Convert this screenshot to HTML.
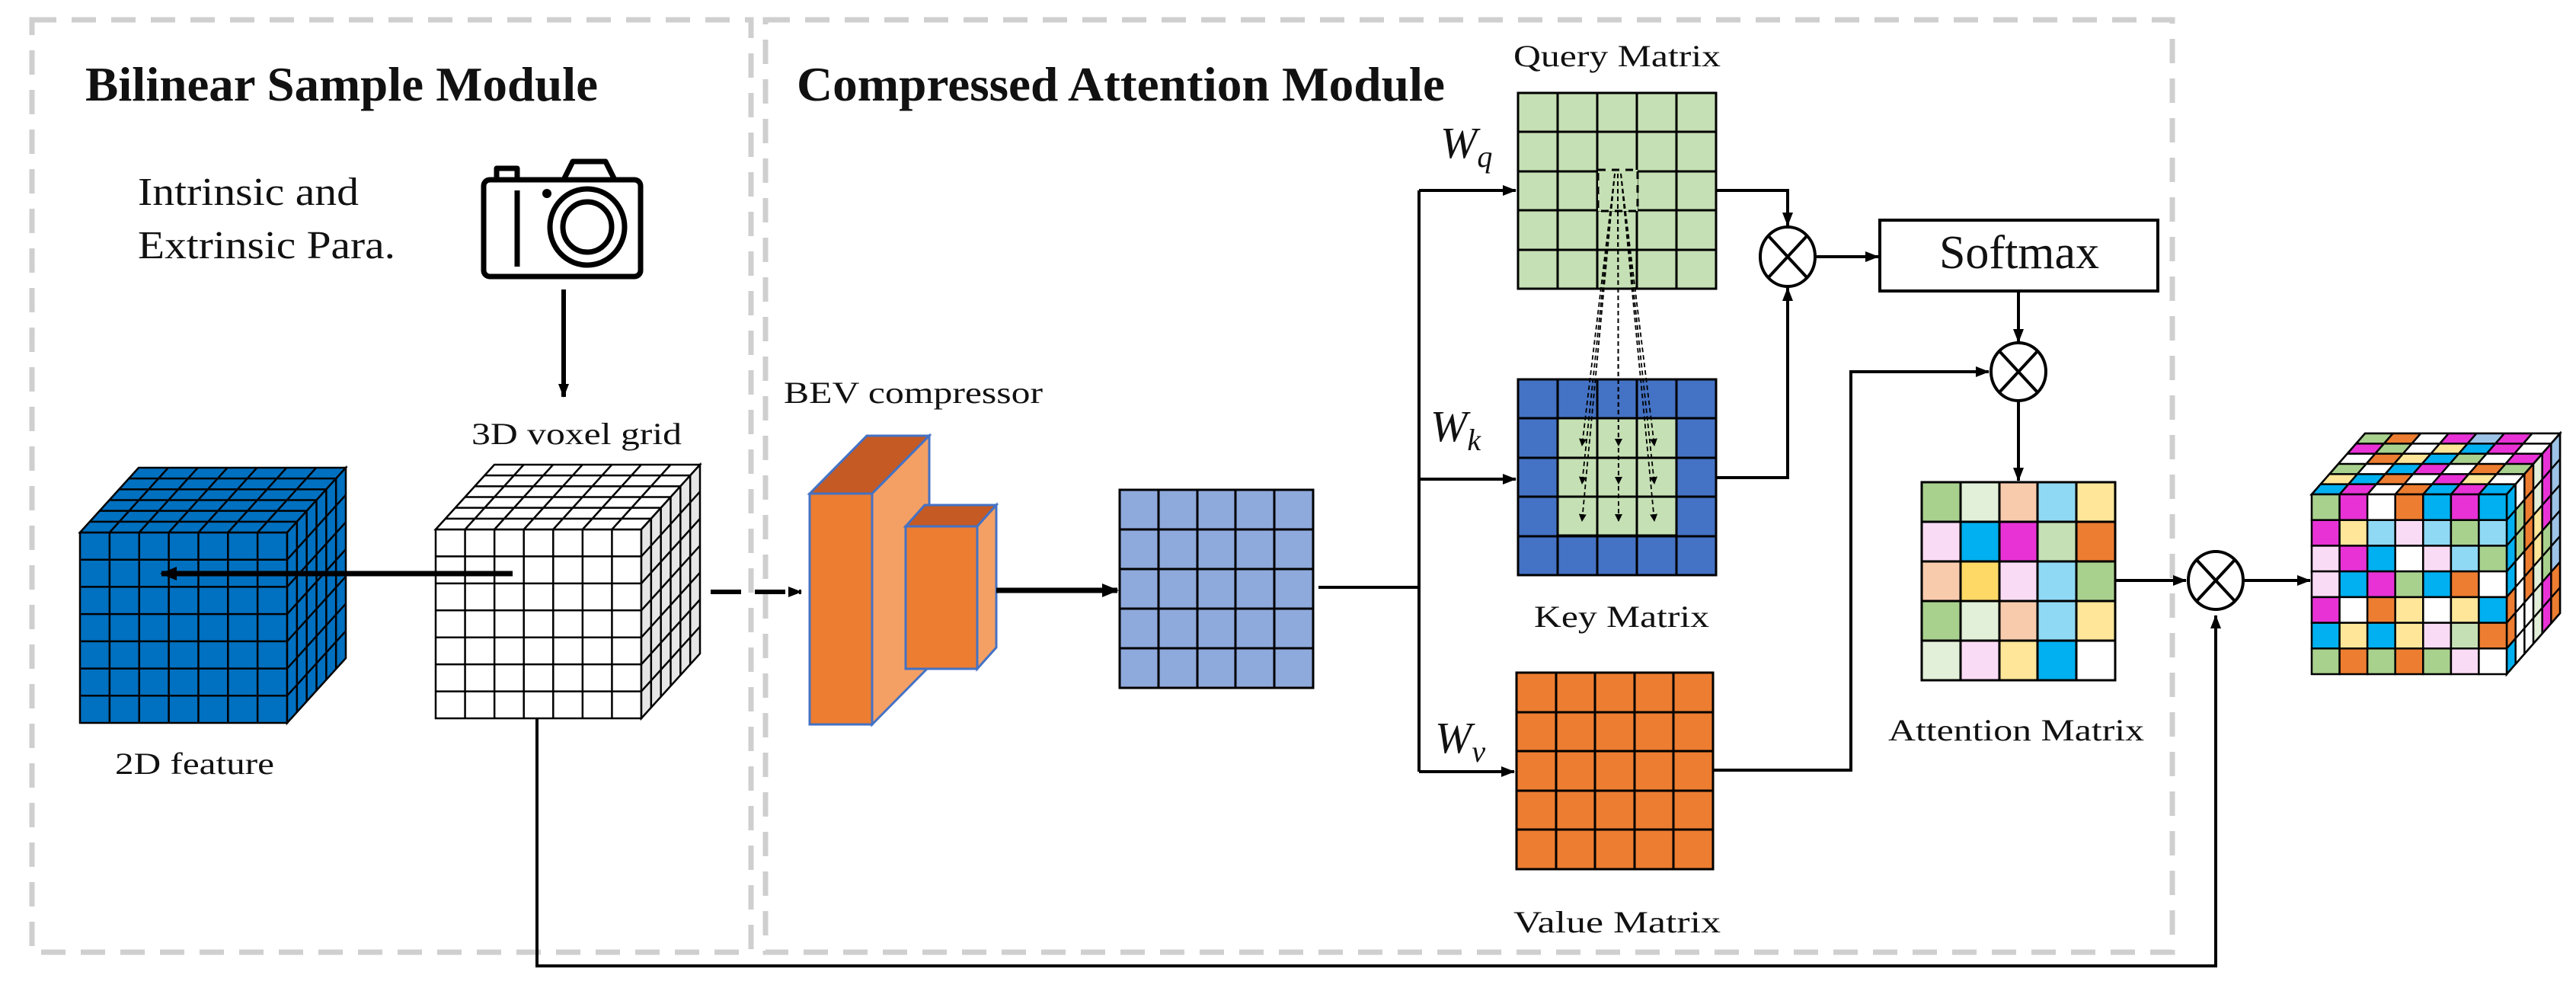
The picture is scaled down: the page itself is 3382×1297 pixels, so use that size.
<!DOCTYPE html>
<html><head><meta charset="utf-8"><style>
html,body{margin:0;padding:0;background:#fff}
svg{display:block}
text{font-family:"Liberation Serif",serif;fill:#111}
</style></head><body>
<svg width="3382" height="1297" viewBox="0 0 3382 1297" xmlns="http://www.w3.org/2000/svg">
<defs>
<marker id="ah" markerWidth="10" markerHeight="10" refX="9" refY="5" orient="auto" markerUnits="userSpaceOnUse" viewBox="0 0 10 10"><path d="M0,0 L10,5 L0,10 z" fill="#000"/></marker>
<marker id="ahb" markerWidth="22" markerHeight="22" refX="20" refY="11" orient="auto" markerUnits="userSpaceOnUse" viewBox="0 0 22 22"><path d="M0,2 L22,11 L0,20 z" fill="#000"/></marker>
<marker id="ahm" markerWidth="18" markerHeight="18" refX="17" refY="9" orient="auto" markerUnits="userSpaceOnUse" viewBox="0 0 18 18"><path d="M0,2 L18,9 L0,16 z" fill="#000"/></marker>
</defs>

<rect x="42" y="26" width="944" height="1224" fill="none" stroke="#cfcfcf" stroke-width="7" stroke-dasharray="32,20"/>
<rect x="1005" y="26" width="1847" height="1224" fill="none" stroke="#cfcfcf" stroke-width="7" stroke-dasharray="32,20"/>

<text x="112" y="132" font-size="64" font-weight="bold" textLength="673" lengthAdjust="spacingAndGlyphs">Bilinear Sample Module</text>
<text x="1046" y="132" font-size="64" font-weight="bold" textLength="851" lengthAdjust="spacingAndGlyphs">Compressed Attention Module</text>

<text x="181" y="269" font-size="52" textLength="290" lengthAdjust="spacingAndGlyphs">Intrinsic  and</text>
<text x="181" y="339" font-size="52" textLength="338" lengthAdjust="spacingAndGlyphs">Extrinsic  Para.</text>

<g fill="none" stroke="#000" stroke-width="7" stroke-linejoin="round">
<rect x="635" y="236" width="206" height="127" rx="8"/>
<path d="M740,236 L752,212 L795,212 L807,236"/>
<rect x="652" y="221" width="27" height="15"/>
<line x1="679" y1="250" x2="679" y2="350"/>
<ellipse cx="771" cy="298" rx="49" ry="50"/>
<ellipse cx="771" cy="298" rx="32" ry="33"/>
</g>
<circle cx="718" cy="254" r="6" fill="#000"/>
<line x1="740" y1="380" x2="740" y2="521" stroke="#000" stroke-width="6" marker-end="url(#ahm)"/>

<text x="619" y="583" font-size="40" textLength="276" lengthAdjust="spacingAndGlyphs">3D voxel grid</text>

<g stroke="#000" stroke-width="2.5">
<rect x="105" y="699" width="272" height="250" fill="#0070C0"/>
<path d="M105,699 L182,614 L454,614 L377,699 z" fill="#0070C0"/>
<path d="M377,699 L454,614 L454,864 L377,949 z" fill="#0070C0"/>
</g>
<g stroke="#000" fill="none">
<g transform="matrix(38.857,0,0,35.714,105,699)"><path vector-effect="non-scaling-stroke" stroke-width="2.5" d="M1,0V7M2,0V7M3,0V7M4,0V7M5,0V7M6,0V7M0,1H7M0,2H7M0,3H7M0,4H7M0,5H7M0,6H7"/></g>
<g transform="matrix(38.857,0,12.833,-14.167,105,699)"><path vector-effect="non-scaling-stroke" stroke-width="2.5" d="M1,0V6M2,0V6M3,0V6M4,0V6M5,0V6M6,0V6M0,1H7M0,2H7M0,3H7M0,4H7M0,5H7"/></g>
<g transform="matrix(12.833,-14.167,0,35.714,377,699)"><path vector-effect="non-scaling-stroke" stroke-width="2.5" d="M1,0V7M2,0V7M3,0V7M4,0V7M5,0V7M0,1H6M0,2H6M0,3H6M0,4H6M0,5H6M0,6H6"/></g>
</g>
<text x="151" y="1016" font-size="40" textLength="209" lengthAdjust="spacingAndGlyphs">2D feature</text>

<g stroke="#000" stroke-width="2.5">
<rect x="572" y="695" width="270" height="248" fill="#fff"/>
<path d="M572,695 L649,610 L919,610 L842,695 z" fill="#fff"/>
<path d="M842,695 L919,610 L919,858 L842,943 z" fill="#e6e6e6"/>
</g>
<g stroke="#000" fill="none">
<g transform="matrix(38.571,0,0,35.43,572,695)"><path vector-effect="non-scaling-stroke" stroke-width="2.5" d="M1,0V7M2,0V7M3,0V7M4,0V7M5,0V7M6,0V7M0,1H7M0,2H7M0,3H7M0,4H7M0,5H7M0,6H7"/></g>
<g transform="matrix(38.571,0,12.833,-14.167,572,695)"><path vector-effect="non-scaling-stroke" stroke-width="2.5" d="M1,0V6M2,0V6M3,0V6M4,0V6M5,0V6M6,0V6M0,1H7M0,2H7M0,3H7M0,4H7M0,5H7"/></g>
<g transform="matrix(12.833,-14.167,0,35.43,842,695)"><path vector-effect="non-scaling-stroke" stroke-width="2.5" d="M1,0V7M2,0V7M3,0V7M4,0V7M5,0V7M0,1H6M0,2H6M0,3H6M0,4H6M0,5H6M0,6H6"/></g>
</g>

<line x1="673" y1="753" x2="212" y2="753" stroke="#000" stroke-width="7" marker-end="url(#ahb)"/>
<line x1="933" y1="777" x2="1052" y2="777" stroke="#000" stroke-width="6" stroke-dasharray="40,18" marker-end="url(#ahm)"/>

<polyline points="705,943 705,1268 2909,1268 2909,808" fill="none" stroke="#000" stroke-width="4" marker-end="url(#ahm)"/>

<text x="1029" y="529" font-size="40" textLength="340" lengthAdjust="spacingAndGlyphs">BEV compressor</text>
<g stroke="#4472C4" stroke-width="3">
<path d="M1063,648 L1138,572 L1220,572 L1145,648 z" fill="#C55A24"/>
<path d="M1145,648 L1220,572 L1220,875 L1145,951 z" fill="#F4A064"/>
<rect x="1063" y="648" width="82" height="303" fill="#ED7D31"/>
<path d="M1189,691 L1214,663 L1308,663 L1283,691 z" fill="#C55A24"/>
<path d="M1283,691 L1308,663 L1308,850 L1283,878 z" fill="#F4A064"/>
<rect x="1189" y="691" width="94" height="187" fill="#ED7D31"/>
</g>
<line x1="1308" y1="775" x2="1467" y2="775" stroke="#000" stroke-width="7" marker-end="url(#ahb)"/>

<g stroke="#000" stroke-width="3">
<rect x="1470" y="643" width="254" height="260" fill="#8EA9DB"/>
<path d="M1521,643V903M1572,643V903M1622,643V903M1673,643V903M1470,695H1724M1470,747H1724M1470,799H1724M1470,851H1724" fill="none"/>
</g>

<g fill="none" stroke="#000" stroke-width="4">
<polyline points="1731,771 1863,771"/>
<polyline points="1863,250 1863,1013"/>
<line x1="1863" y1="250" x2="1990" y2="250" marker-end="url(#ahm)"/>
<line x1="1863" y1="629" x2="1990" y2="629" marker-end="url(#ahm)"/>
<line x1="1863" y1="1013" x2="1988" y2="1013" marker-end="url(#ahm)"/>
</g>
<text x="1891" y="207" font-size="58" font-style="italic">W<tspan font-size="40" dy="12">q</tspan></text>
<text x="1878" y="579" font-size="58" font-style="italic">W<tspan font-size="40" dy="12">k</tspan></text>
<text x="1884" y="988" font-size="58" font-style="italic">W<tspan font-size="40" dy="12">v</tspan></text>

<text x="1987" y="87" font-size="40" textLength="272" lengthAdjust="spacingAndGlyphs">Query  Matrix</text>
<g stroke="#000" stroke-width="3">
<rect x="1993" y="122" width="260" height="257" fill="#C5E0B4"/>
<path d="M2045,122V379M2097,122V379M2149,122V379M2201,122V379M1993,173H2253M1993,225H2253M1993,276H2253M1993,328H2253" fill="none"/>
</g>
<rect x="2098" y="223" width="52" height="54" fill="#C5E0B4" stroke="#000" stroke-width="3" stroke-dasharray="10,8"/>

<g stroke="#000" stroke-width="3">
<rect x="1993" y="498" width="260" height="257" fill="#4472C4"/>
<rect x="2045" y="549" width="156" height="154" fill="#C5E0B4"/>
<path d="M2045,498V755M2097,498V755M2149,498V755M2201,498V755M1993,549H2253M1993,601H2253M1993,652H2253M1993,704H2253" fill="none"/>
</g>
<g stroke="#000" stroke-width="1.8" stroke-dasharray="6,4" fill="none">
<line x1="2120" y1="228" x2="2077" y2="585" marker-end="url(#ah)"/>
<line x1="2120" y1="228" x2="2077" y2="635" marker-end="url(#ah)"/>
<line x1="2120" y1="228" x2="2077" y2="684" marker-end="url(#ah)"/>
<line x1="2124" y1="228" x2="2125" y2="585" marker-end="url(#ah)"/>
<line x1="2124" y1="228" x2="2125" y2="635" marker-end="url(#ah)"/>
<line x1="2124" y1="228" x2="2125" y2="684" marker-end="url(#ah)"/>
<line x1="2128" y1="228" x2="2172" y2="585" marker-end="url(#ah)"/>
<line x1="2128" y1="228" x2="2172" y2="635" marker-end="url(#ah)"/>
<line x1="2128" y1="228" x2="2172" y2="684" marker-end="url(#ah)"/>
</g>
<text x="2014" y="823" font-size="40" textLength="230" lengthAdjust="spacingAndGlyphs">Key  Matrix</text>

<g stroke="#000" stroke-width="3">
<rect x="1991" y="883" width="258" height="258" fill="#ED7D31"/>
<path d="M2043,883V1141M2094,883V1141M2146,883V1141M2197,883V1141M1991,935H2249M1991,986H2249M1991,1038H2249M1991,1089H2249" fill="none"/>
</g>
<g stroke="#000" stroke-width="2" stroke-dasharray="8,5" fill="none">
<rect x="2043" y="935" width="154" height="154"/>
<path d="M2094,935V1089M2146,935V1089M2043,986H2197M2043,1038H2197"/>
</g>
<text x="1987" y="1224" font-size="40" textLength="272" lengthAdjust="spacingAndGlyphs">Value  Matrix</text>

<g fill="none" stroke="#000" stroke-width="4">
<polyline points="2253,250 2347,250 2347,296" marker-end="url(#ahm)"/>
<polyline points="2253,627 2347,627 2347,378" marker-end="url(#ahm)"/>
<line x1="2385" y1="337" x2="2466" y2="337" marker-end="url(#ahm)"/>
<rect x="2468" y="289" width="365" height="93" stroke-width="4"/>
<line x1="2650" y1="382" x2="2650" y2="449" marker-end="url(#ahm)"/>
<polyline points="2249,1011 2430,1011 2430,488 2611,488" marker-end="url(#ahm)"/>
<line x1="2650" y1="526" x2="2650" y2="631" marker-end="url(#ahm)"/>
<line x1="2777" y1="762" x2="2870" y2="762" marker-end="url(#ahm)"/>
<line x1="2947" y1="762" x2="3033" y2="762" marker-end="url(#ahm)"/>
</g>
<text x="2651" y="352" font-size="62" text-anchor="middle">Softmax</text>
<g fill="#fff" stroke="#000" stroke-width="4">
<ellipse cx="2347" cy="337" rx="36" ry="39"/>
<path d="M2322,310L2372,364M2372,310L2322,364" fill="none"/>
<ellipse cx="2650" cy="488" rx="36" ry="38"/>
<path d="M2625,461L2675,515M2675,461L2625,515" fill="none"/>
<ellipse cx="2909" cy="762" rx="36" ry="38"/>
<path d="M2884,735L2934,789M2934,735L2884,789" fill="none"/>
</g>

<g stroke="#000" stroke-width="3">
<rect x="2523" y="633" width="51" height="52" fill="#A9D18E"/><rect x="2574" y="633" width="51" height="52" fill="#E2F0D9"/><rect x="2625" y="633" width="50" height="52" fill="#F8CBAD"/><rect x="2675" y="633" width="51" height="52" fill="#8FD9F5"/><rect x="2726" y="633" width="51" height="52" fill="#FFE699"/>
<rect x="2523" y="685" width="51" height="52" fill="#FADBF5"/><rect x="2574" y="685" width="51" height="52" fill="#00B0F0"/><rect x="2625" y="685" width="50" height="52" fill="#E832D6"/><rect x="2675" y="685" width="51" height="52" fill="#C5E0B4"/><rect x="2726" y="685" width="51" height="52" fill="#ED7D31"/>
<rect x="2523" y="737" width="51" height="52" fill="#F8CBAD"/><rect x="2574" y="737" width="51" height="52" fill="#FFD966"/><rect x="2625" y="737" width="50" height="52" fill="#FADBF5"/><rect x="2675" y="737" width="51" height="52" fill="#8FD9F5"/><rect x="2726" y="737" width="51" height="52" fill="#A9D18E"/>
<rect x="2523" y="789" width="51" height="52" fill="#A9D18E"/><rect x="2574" y="789" width="51" height="52" fill="#E2F0D9"/><rect x="2625" y="789" width="50" height="52" fill="#F8CBAD"/><rect x="2675" y="789" width="51" height="52" fill="#8FD9F5"/><rect x="2726" y="789" width="51" height="52" fill="#FFE699"/>
<rect x="2523" y="841" width="51" height="52" fill="#E2F0D9"/><rect x="2574" y="841" width="51" height="52" fill="#FADBF5"/><rect x="2625" y="841" width="50" height="52" fill="#FFE699"/><rect x="2675" y="841" width="51" height="52" fill="#00B0F0"/><rect x="2726" y="841" width="51" height="52" fill="#fff"/>
</g>
<text x="2479" y="972" font-size="40" textLength="336" lengthAdjust="spacingAndGlyphs">Attention  Matrix</text>

<g stroke="#000" stroke-width="2.5">
<path d="M3035,649 L3105,569 L3361,569 L3291,649 z" fill="#9DC3E6"/>
<path d="M3291,649 L3361,569 L3361,805 L3291,885 z" fill="#E2F0D9"/>
</g>
<g transform="matrix(36.571,0,11.667,-13.333,3035,649)" stroke="none">
<rect x="0" y="0" width="1" height="1" fill="#00B0F0"/><rect x="1" y="0" width="1" height="1" fill="#E832D6"/><rect x="2" y="0" width="1" height="1" fill="#fff"/><rect x="3" y="0" width="1" height="1" fill="#ED7D31"/><rect x="4" y="0" width="1" height="1" fill="#00B0F0"/><rect x="5" y="0" width="1" height="1" fill="#E832D6"/><rect x="6" y="0" width="1" height="1" fill="#00B0F0"/>
<rect x="0" y="1" width="1" height="1" fill="#FFE699"/><rect x="1" y="1" width="1" height="1" fill="#00B0F0"/><rect x="2" y="1" width="1" height="1" fill="#ED7D31"/><rect x="3" y="1" width="1" height="1" fill="#fff"/><rect x="4" y="1" width="1" height="1" fill="#E832D6"/><rect x="5" y="1" width="1" height="1" fill="#FFE699"/><rect x="6" y="1" width="1" height="1" fill="#fff"/>
<rect x="0" y="2" width="1" height="1" fill="#A9D18E"/><rect x="1" y="2" width="1" height="1" fill="#fff"/><rect x="2" y="2" width="1" height="1" fill="#00B0F0"/><rect x="3" y="2" width="1" height="1" fill="#E832D6"/><rect x="4" y="2" width="1" height="1" fill="#fff"/><rect x="5" y="2" width="1" height="1" fill="#ED7D31"/><rect x="6" y="2" width="1" height="1" fill="#A9D18E"/>
<rect x="0" y="3" width="1" height="1" fill="#fff"/><rect x="1" y="3" width="1" height="1" fill="#ED7D31"/><rect x="2" y="3" width="1" height="1" fill="#FFE699"/><rect x="3" y="3" width="1" height="1" fill="#00B0F0"/><rect x="4" y="3" width="1" height="1" fill="#A9D18E"/><rect x="5" y="3" width="1" height="1" fill="#fff"/><rect x="6" y="3" width="1" height="1" fill="#E832D6"/>
<rect x="0" y="4" width="1" height="1" fill="#E832D6"/><rect x="1" y="4" width="1" height="1" fill="#A9D18E"/><rect x="2" y="4" width="1" height="1" fill="#fff"/><rect x="3" y="4" width="1" height="1" fill="#FFE699"/><rect x="4" y="4" width="1" height="1" fill="#00B0F0"/><rect x="5" y="4" width="1" height="1" fill="#E832D6"/><rect x="6" y="4" width="1" height="1" fill="#fff"/>
<rect x="0" y="5" width="1" height="1" fill="#A9D18E"/><rect x="1" y="5" width="1" height="1" fill="#ED7D31"/><rect x="2" y="5" width="1" height="1" fill="#fff"/><rect x="3" y="5" width="1" height="1" fill="#E832D6"/><rect x="4" y="5" width="1" height="1" fill="#9DC3E6"/><rect x="5" y="5" width="1" height="1" fill="#E832D6"/><rect x="6" y="5" width="1" height="1" fill="#fff"/>
</g>
<g transform="matrix(11.667,-13.333,0,33.714,3291,649)" stroke="none">
<rect x="0" y="0" width="1" height="7" fill="#00B0F0"/><rect x="1" y="0" width="1" height="7" fill="#fff"/><rect x="2" y="0" width="1" height="7" fill="#ED7D31"/><rect x="3" y="0" width="1" height="7" fill="#E2F0D9"/><rect x="4" y="0" width="1" height="7" fill="#E832D6"/><rect x="5" y="0" width="1" height="7" fill="#9DC3E6"/>
<rect x="1" y="1" width="1" height="2" fill="#A9D18E"/><rect x="3" y="2" width="1" height="2" fill="#FFE699"/><rect x="0" y="4" width="1" height="2" fill="#ED7D31"/><rect x="2" y="5" width="1" height="2" fill="#fff"/><rect x="4" y="3" width="1" height="2" fill="#A9D18E"/><rect x="5" y="5" width="1" height="2" fill="#ED7D31"/>
</g>
<g fill="none" stroke="#000">
<g transform="matrix(36.571,0,11.667,-13.333,3035,649)"><path vector-effect="non-scaling-stroke" stroke-width="2.5" d="M0,0H7V6H0z M1,0V6M2,0V6M3,0V6M4,0V6M5,0V6M6,0V6M0,1H7M0,2H7M0,3H7M0,4H7M0,5H7"/></g>
<g transform="matrix(11.667,-13.333,0,33.714,3291,649)"><path vector-effect="non-scaling-stroke" stroke-width="2.5" d="M0,0H6V7H0z M1,0V7M2,0V7M3,0V7M4,0V7M5,0V7M0,1H6M0,2H6M0,3H6M0,4H6M0,5H6M0,6H6"/></g>
</g>
<g stroke="#000" stroke-width="2.5">
<rect x="3035" y="649" width="36.6" height="33.7" fill="#A9D18E"/><rect x="3071.6" y="649" width="36.6" height="33.7" fill="#E832D6"/><rect x="3108.1" y="649" width="36.6" height="33.7" fill="#fff"/><rect x="3144.7" y="649" width="36.6" height="33.7" fill="#ED7D31"/><rect x="3181.3" y="649" width="36.6" height="33.7" fill="#00B0F0"/><rect x="3217.9" y="649" width="36.6" height="33.7" fill="#E832D6"/><rect x="3254.4" y="649" width="36.6" height="33.7" fill="#00B0F0"/>
<rect x="3035" y="682.7" width="36.6" height="33.7" fill="#E832D6"/><rect x="3071.6" y="682.7" width="36.6" height="33.7" fill="#FFE699"/><rect x="3108.1" y="682.7" width="36.6" height="33.7" fill="#8FD9F5"/><rect x="3144.7" y="682.7" width="36.6" height="33.7" fill="#FADBF5"/><rect x="3181.3" y="682.7" width="36.6" height="33.7" fill="#8FD9F5"/><rect x="3217.9" y="682.7" width="36.6" height="33.7" fill="#A9D18E"/><rect x="3254.4" y="682.7" width="36.6" height="33.7" fill="#8FD9F5"/>
<rect x="3035" y="716.4" width="36.6" height="33.7" fill="#FADBF5"/><rect x="3071.6" y="716.4" width="36.6" height="33.7" fill="#E832D6"/><rect x="3108.1" y="716.4" width="36.6" height="33.7" fill="#00B0F0"/><rect x="3144.7" y="716.4" width="36.6" height="33.7" fill="#fff"/><rect x="3181.3" y="716.4" width="36.6" height="33.7" fill="#FADBF5"/><rect x="3217.9" y="716.4" width="36.6" height="33.7" fill="#8FD9F5"/><rect x="3254.4" y="716.4" width="36.6" height="33.7" fill="#A9D18E"/>
<rect x="3035" y="750.1" width="36.6" height="33.7" fill="#FADBF5"/><rect x="3071.6" y="750.1" width="36.6" height="33.7" fill="#00B0F0"/><rect x="3108.1" y="750.1" width="36.6" height="33.7" fill="#E832D6"/><rect x="3144.7" y="750.1" width="36.6" height="33.7" fill="#A9D18E"/><rect x="3181.3" y="750.1" width="36.6" height="33.7" fill="#00B0F0"/><rect x="3217.9" y="750.1" width="36.6" height="33.7" fill="#ED7D31"/><rect x="3254.4" y="750.1" width="36.6" height="33.7" fill="#fff"/>
<rect x="3035" y="783.9" width="36.6" height="33.7" fill="#E832D6"/><rect x="3071.6" y="783.9" width="36.6" height="33.7" fill="#fff"/><rect x="3108.1" y="783.9" width="36.6" height="33.7" fill="#ED7D31"/><rect x="3144.7" y="783.9" width="36.6" height="33.7" fill="#FFE699"/><rect x="3181.3" y="783.9" width="36.6" height="33.7" fill="#fff"/><rect x="3217.9" y="783.9" width="36.6" height="33.7" fill="#FFE699"/><rect x="3254.4" y="783.9" width="36.6" height="33.7" fill="#00B0F0"/>
<rect x="3035" y="817.6" width="36.6" height="33.7" fill="#00B0F0"/><rect x="3071.6" y="817.6" width="36.6" height="33.7" fill="#FFE699"/><rect x="3108.1" y="817.6" width="36.6" height="33.7" fill="#00B0F0"/><rect x="3144.7" y="817.6" width="36.6" height="33.7" fill="#FFE699"/><rect x="3181.3" y="817.6" width="36.6" height="33.7" fill="#FADBF5"/><rect x="3217.9" y="817.6" width="36.6" height="33.7" fill="#C5E0B4"/><rect x="3254.4" y="817.6" width="36.6" height="33.7" fill="#ED7D31"/>
<rect x="3035" y="851.3" width="36.6" height="33.7" fill="#A9D18E"/><rect x="3071.6" y="851.3" width="36.6" height="33.7" fill="#ED7D31"/><rect x="3108.1" y="851.3" width="36.6" height="33.7" fill="#A9D18E"/><rect x="3144.7" y="851.3" width="36.6" height="33.7" fill="#ED7D31"/><rect x="3181.3" y="851.3" width="36.6" height="33.7" fill="#A9D18E"/><rect x="3217.9" y="851.3" width="36.6" height="33.7" fill="#FADBF5"/><rect x="3254.4" y="851.3" width="36.6" height="33.7" fill="#fff"/>
</g>
</svg>
</body></html>
